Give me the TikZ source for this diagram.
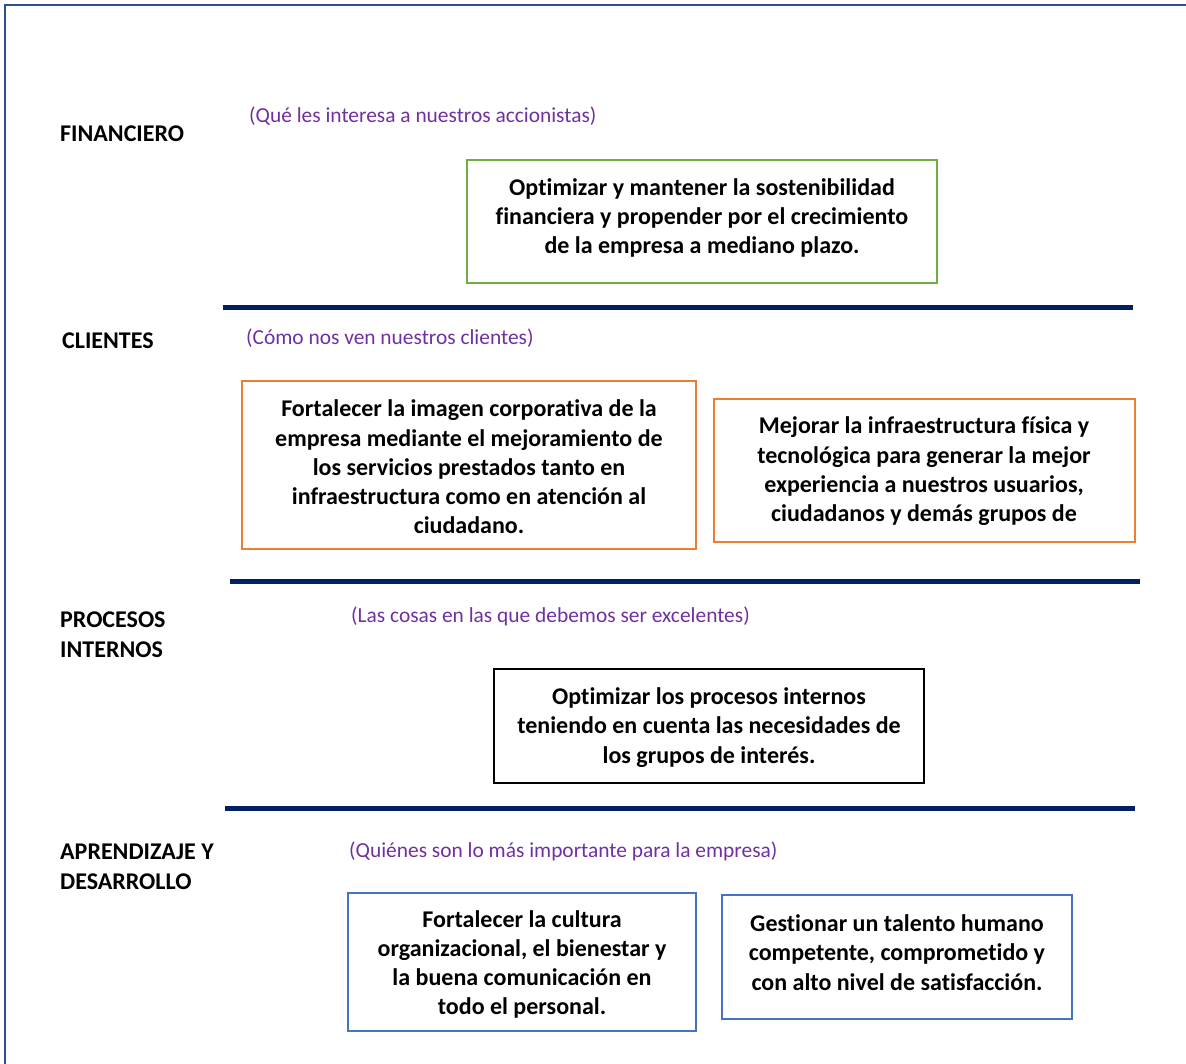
\documentclass[tikz,border=0pt]{standalone}
\usepackage{fontspec}
\setmainfont[Ligatures=NoCommon]{Carlito}
\definecolor{navy}{HTML}{002060}
\definecolor{frameblue}{HTML}{2F4F8F}
\definecolor{purp}{HTML}{7030A0}
\definecolor{grn}{HTML}{70AD47}
\definecolor{org}{HTML}{ED7D31}
\definecolor{blu}{HTML}{4472C4}
\tikzset{
  objbox/.style={draw, line width=2.2pt, inner sep=0pt},
  objtext/.style={font=\fontsize{24}{29.3}\selectfont\bfseries, align=center, inner sep=0pt},
  persp/.style={font=\fontsize{24}{30}\selectfont\bfseries, align=left, anchor=west, inner sep=0pt},
  question/.style={font=\fontsize{21.4}{24}\selectfont, text=purp, anchor=west, inner sep=0pt},
  divider/.style={navy, line width=5pt},
}
\begin{document}
\begin{tikzpicture}[x=1pt,y=-1pt]
\useasboundingbox (0,0) rectangle (1186,1063);
\draw[frameblue, line width=2pt] (5,1070) -- (5,5) -- (1195,5);

% Perspective labels
\node[persp] (fin) at (60,134) {FINANCIERO};
\node[persp] (cli) at (62,341) {CLIENTES};
\node[persp] (pro) at (60,635) {PROCESOS\\INTERNOS};
\node[persp] (apr) at (60,867) {APRENDIZAJE Y\\DESARROLLO};

% Questions
\node[question] (q1) at (249,116) {(Qué les interesa a nuestros accionistas)};
\node[question] (q2) at (246,338) {(Cómo nos ven nuestros clientes)};
\node[question] (q3) at (351,616) {(Las cosas en las que debemos ser excelentes)};
\node[question] (q4) at (349,851) {(Quiénes son lo más importante para la empresa)};

% Dividers
\coordinate (d1a) at (223,307); \coordinate (d1b) at (1133,307);
\coordinate (d2a) at (230,581); \coordinate (d2b) at (1140,581);
\coordinate (d3a) at (225,808); \coordinate (d3b) at (1135,808);
\draw[divider] (d1a) -- (d1b);
\draw[divider] (d2a) -- (d2b);
\draw[divider] (d3a) -- (d3b);

% Boxes
\node[objbox, draw=grn, minimum width=470pt, minimum height=123pt] (b1) at (702,221.5) {};
\node[objtext] (t1) at (702,218) {Optimizar y mantener la sostenibilidad\\financiera y propender por el crecimiento\\de la empresa a mediano plazo.};

\node[objbox, draw=org, minimum width=454pt, minimum height=168pt] (b2) at (469,465) {};
\node[objtext] (t2) at (469,467) {Fortalecer la imagen corporativa de la\\empresa mediante el mejoramiento de\\los servicios prestados tanto en\\infraestructura como en atención al\\ciudadano.};

\node[objbox, draw=org, minimum width=421pt, minimum height=143pt] (b3) at (924.5,470.5) {};
\node[objtext] (t3) at (924,471.5) {Mejorar la infraestructura física y\\tecnológica para generar la mejor\\experiencia a nuestros usuarios,\\ciudadanos y demás grupos de};

\node[objbox, draw=black, minimum width=430pt, minimum height=114pt] (b4) at (709,726) {};
\node[objtext] (t4) at (709,727.5) {Optimizar los procesos internos\\teniendo en cuenta las necesidades de\\los grupos de interés.};

\node[objbox, draw=blu, minimum width=348pt, minimum height=138pt] (b5) at (522,962) {};
\node[objtext] (t5) at (522,964.5) {Fortalecer la cultura\\organizacional, el bienestar y\\la buena comunicación en\\todo el personal.};

\node[objbox, draw=blu, minimum width=350pt, minimum height=124pt] (b6) at (897,957) {};
\node[objtext] (t6) at (897,952.5) {Gestionar un talento humano\\competente, comprometido y\\con alto nivel de satisfacción.};
\end{tikzpicture}
\end{document}
